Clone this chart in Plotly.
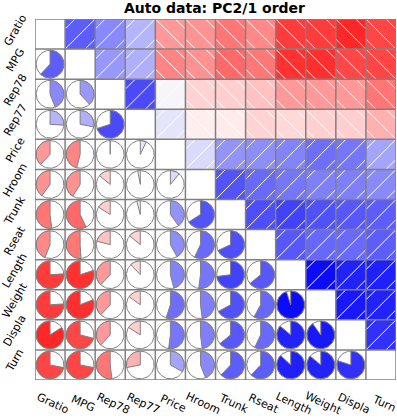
import numpy as np
import plotly.graph_objects as go

variables = ["Gratio", "MPG", "Rep78", "Rep77", "Price", "Hroom",
             "Trunk", "Rseat", "Length", "Weight", "Displa", "Turn"]

# lower-triangle correlations, row by row (row i has i values)
r_MPG    = [0.62]
r_Rep78  = [0.44, 0.38]
r_Rep77  = [0.26, 0.28, 0.70]
r_Price  = [-0.38, -0.46, 0.00, 0.07]
r_Hroom  = [-0.40, -0.41, -0.14, -0.03, 0.11]
r_Trunk  = [-0.52, -0.57, -0.16, -0.04, 0.40, 0.66]
r_Rseat  = [-0.44, -0.51, -0.21, -0.14, 0.42, 0.57, 0.68]
r_Length = [-0.76, -0.80, -0.38, -0.12, 0.46, 0.52, 0.73, 0.64]
r_Weight = [-0.76, -0.81, -0.38, -0.15, 0.55, 0.48, 0.67, 0.58, 0.95]
r_Displa = [-0.84, -0.71, -0.38, -0.16, 0.52, 0.48, 0.64, 0.57, 0.86, 0.90]
r_Turn   = [-0.72, -0.72, -0.52, -0.28, 0.33, 0.44, 0.62, 0.62, 0.87, 0.86, 0.80]

rows = [[], r_MPG, r_Rep78, r_Rep77, r_Price, r_Hroom, r_Trunk, r_Rseat,
        r_Length, r_Weight, r_Displa, r_Turn]

n = len(variables)
R = np.eye(n)
for i, vals in enumerate(rows):
    for j, v in enumerate(vals):
        R[i, j] = v
        R[j, i] = v

GRAY = "#808080"


def color_of(r):
    c = int(round(245 * (1 - abs(r))))
    if r >= 0:
        return f"rgb({c},{c},250)"
    return f"rgb(255,{c},{c})"


fig = go.Figure()

# upper triangle: shaded squares
for i in range(n):
    for j in range(i + 1, n):
        r = R[i, j]
        x0, x1 = j, j + 1
        y0, y1 = n - 1 - i, n - i
        fig.add_trace(go.Scatter(
            x=[x0, x1, x1, x0, x0], y=[y0, y0, y1, y1, y0],
            mode="lines", fill="toself", fillcolor=color_of(r),
            line=dict(width=0, color=color_of(r)), hoverinfo="skip",
            showlegend=False))

# hatch lines
hx_pos, hy_pos, hx_neg, hy_neg = [], [], [], []
for i in range(n):
    for j in range(i + 1, n):
        r = R[i, j]
        x0 = j
        y0 = n - 1 - i
        for d in (-2 / 3, 0.0, 2 / 3):
            if r >= 0:
                u0, u1 = max(0, -d), min(1, 1 - d)
                hx_pos += [x0 + u0, x0 + u1, None]
                hy_pos += [y0 + u0 + d, y0 + u1 + d, None]
            else:
                u0, u1 = max(0, d), min(1, 1 + d)
                hx_neg += [x0 + u0, x0 + u1, None]
                hy_neg += [y0 + 1 - u0 + d, y0 + 1 - u1 + d, None]
for hx, hy in ((hx_pos, hy_pos), (hx_neg, hy_neg)):
    fig.add_trace(go.Scatter(x=hx, y=hy, mode="lines",
                             line=dict(color="white", width=1),
                             hoverinfo="skip", showlegend=False))

# lower triangle: pies
rad = 0.46
th = np.linspace(0, 2 * np.pi, 73)
for i in range(n):
    for j in range(i):
        r = R[i, j]
        cx, cy = j + 0.5, n - 1 - i + 0.5
        fig.add_trace(go.Scatter(
            x=cx + rad * np.sin(th), y=cy + rad * np.cos(th), mode="lines",
            line=dict(color=GRAY, width=1), hoverinfo="skip",
            showlegend=False))
        ang = 2 * np.pi * abs(r)
        m = max(2, int(np.ceil(ang / (2 * np.pi) * 72)) + 1)
        a = np.linspace(0, ang, m)
        sgn = 1 if r >= 0 else -1
        px = np.concatenate([[cx], cx + sgn * rad * np.sin(a), [cx]])
        py = np.concatenate([[cy], cy + rad * np.cos(a), [cy]])
        fig.add_trace(go.Scatter(
            x=px, y=py, mode="lines", fill="toself", fillcolor=color_of(r),
            line=dict(color=GRAY, width=1), hoverinfo="skip",
            showlegend=False))

# grid
gx, gy = [], []
for k in range(n + 1):
    gx += [k, k, None, 0, n, None]
    gy += [0, n, None, k, k, None]
fig.add_trace(go.Scatter(x=gx, y=gy, mode="lines",
                         line=dict(color=GRAY, width=1.5),
                         hoverinfo="skip", showlegend=False))

annotations = []
lab_font = dict(family="DejaVu Sans", size=11, color="black")
for i, name in enumerate(variables):
    annotations.append(dict(
        x=0, y=n - 1 - i + 0.5, xref="x", yref="y", text=name,
        showarrow=False, textangle=-60, xshift=-20, yshift=4,
        font=lab_font))
    annotations.append(dict(
        x=i + 0.5, y=0, xref="x", yref="y", text=name,
        showarrow=False, textangle=25, xshift=3, yshift=-23,
        font=lab_font))
annotations.append(dict(
    x=0.4986, y=1 + 11 / 361, xref="paper", yref="paper",
    text="<b>Auto data: PC2/1 order</b>", showarrow=False,
    yanchor="middle", font=dict(family="DejaVu Sans", size=14,
                                color="black")))

fig.update_layout(
    width=397, height=419,
    margin=dict(l=35, r=1, t=19, b=39, pad=0),
    paper_bgcolor="white", plot_bgcolor="white",
    xaxis=dict(range=[0, n], visible=False, fixedrange=True),
    yaxis=dict(range=[0, n], visible=False, fixedrange=True),
    annotations=annotations,
    showlegend=False,
)

fig.write_html("out.html", config={"displayModeBar": False},
               post_script="document.body.style.margin='0';"
                           "document.body.style.overflow='hidden';")
